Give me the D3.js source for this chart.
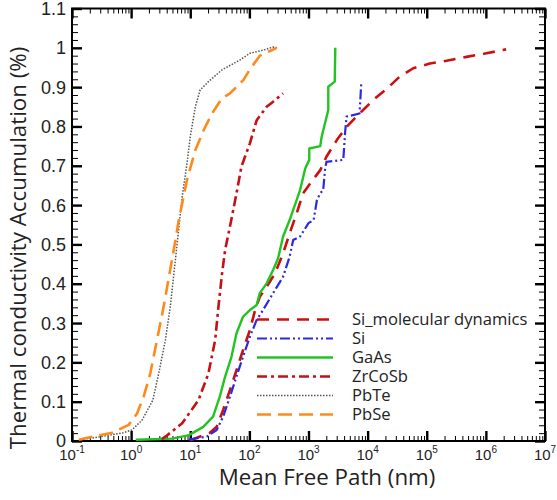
<!DOCTYPE html>
<html><head><meta charset="utf-8">
<script src="https://cdn.jsdelivr.net/npm/d3@7"></script>
<style>body{margin:0;background:#fff}svg{display:block}</style>
</head><body><svg id="c" width="557" height="500"></svg>
<script>
// ---- data ----
const xTickExps = [-1,0,1,2,3,4,5,6,7];
const yTicks = [0,0.1,0.2,0.3,0.4,0.5,0.6,0.7,0.8,0.9,1,1.1];
const yTickLabels = ["0","0.1","0.2","0.3","0.4","0.5","0.6","0.7","0.8","0.9","1","1.1"];
const seriesNames = ["Si_molecular dynamics","Si","GaAs","ZrCoSb","PbTe","PbSe"];

const siMdX = [10,21,28,36,47,60.6,78,102,125,150,196,270,372,480,630,810,1070,1580,2010,3030,4400,7300,1.24e4,2.3e4,3.5e4,5.9e4,1.13e5,2.16e5,4.7e5,1.02e6,2.2e6];
const siMdY = [0.002,0.02,0.036,0.079,0.13,0.18,0.231,0.282,0.333,0.367,0.392,0.426,0.477,0.528,0.579,0.63,0.655,0.689,0.723,0.766,0.799,0.833,0.867,0.901,0.927,0.948,0.96,0.967,0.977,0.986,0.996];

const siX = [9.5,10,19,28,36,47,60.6,78,102,133,170,252,372,480,550,720,1000,1220,1390,1580,1770,1900,2010,3880,4150,4400,7300,7800];
const siY = [0.003,0.004,0.011,0.028,0.062,0.113,0.164,0.214,0.265,0.308,0.333,0.376,0.418,0.469,0.511,0.52,0.554,0.562,0.613,0.63,0.638,0.689,0.71,0.715,0.783,0.825,0.833,0.909];

const gaasX = [1.2,5,9.5,16.6,24.3,31.6,38.9,49.8,60.6,78,102,133,150,196,252,306,372,480,720,880,1030,1030,1580,1670,2160,2160,2780,2840];
const gaasY = [0.003,0.006,0.015,0.036,0.062,0.113,0.164,0.214,0.274,0.316,0.333,0.346,0.376,0.401,0.435,0.465,0.52,0.562,0.638,0.693,0.715,0.744,0.75,0.774,0.842,0.901,0.914,1.0];

const zrX = [3.3,3.8,7.3,13.8,20.3,26.4,30,34.5,38.9,46.9,60.6,73.4,102,133,196,252,372];
const zrY = [0.005,0.011,0.045,0.104,0.172,0.257,0.342,0.426,0.486,0.545,0.63,0.698,0.757,0.816,0.85,0.863,0.884];

const pbteX = [0.14,0.7,1.03,1.53,2.33,2.93,3.8,4.6,5.6,7.3,8.8,10,12.2,14.7,20.3,34.5,69,102,170,252,290];
const pbteY = [0.003,0.02,0.028,0.053,0.104,0.172,0.257,0.342,0.46,0.621,0.706,0.774,0.85,0.893,0.914,0.944,0.969,0.986,0.994,1.002,1.0];

const pbseX = [0.13,0.22,0.48,0.91,1.26,1.63,2.11,2.74,3.55,4.9,5.6,6.4,8.8,12.2,16.9,23.3,34.5,47,79,102,150,223,290];
const pbseY = [0.003,0.011,0.021,0.041,0.07,0.113,0.172,0.257,0.342,0.46,0.51,0.562,0.664,0.74,0.791,0.833,0.872,0.884,0.918,0.945,0.98,0.992,1.0];

// ---- layout ----
const L=72,R=545,T=8.5,B=441;
const svg=d3.select("#c");
const x=d3.scaleLog().domain([1e-1,1e7]).range([L,R]);
const y=d3.scaleLinear().domain([0,1.1]).range([B,T]);

const styles=[
 {color:"#cc1010",w:2.6,dash:"12,8"},
 {color:"#2a2ae6",w:2.2,dash:"10,3,2,3,2,3"},
 {color:"#22c422",w:2.4,dash:null},
 {color:"#c80f14",w:2.6,dash:"10,4,3,4"},
 {color:"#555",w:1.5,dash:"1.5,1.5"},
 {color:"#ff8a1c",w:2.6,dash:"14,7"}
];
const series=[[siMdX,siMdY],[siX,siY],[gaasX,gaasY],[zrX,zrY],[pbteX,pbteY],[pbseX,pbseY]];

const xMajor=xTickExps.map(e=>Math.pow(10,e));
const xMinor=[];
for(let e=-1;e<7;e++) for(let k=2;k<=9;k++) xMinor.push(k*Math.pow(10,e));
const yMinor=d3.range(0,56).map(i=>i*0.02).filter(v=>Math.abs(v*10-Math.round(v*10))>1e-6);

const axG=svg.append("g");
function axis(gen,tr,vals,size,sw){
  const g=axG.append("g").attr("transform",tr)
   .call(gen.tickValues(vals).tickSize(size).tickFormat(""));
  g.select(".domain").remove();
  g.selectAll(".tick line").attr("stroke","#000").attr("stroke-width",sw);
}
axis(d3.axisTop(x),`translate(0,${B})`,xMinor,5,1);
axis(d3.axisTop(x),`translate(0,${B})`,xMajor,10,2.4);
axis(d3.axisBottom(x),`translate(0,${T})`,xMinor,5,1);
axis(d3.axisBottom(x),`translate(0,${T})`,xMajor,10,2.4);
axis(d3.axisRight(y),`translate(${L},0)`,yMinor,6,1);
axis(d3.axisRight(y),`translate(${L},0)`,yTicks,10,2.4);
axis(d3.axisLeft(y),`translate(${R},0)`,yMinor,6,1);
axis(d3.axisLeft(y),`translate(${R},0)`,yTicks,10,2.4);

svg.append("rect").attr("x",L).attr("y",T).attr("width",R-L).attr("height",B-T)
  .attr("fill","none").attr("stroke","#000").attr("stroke-width",2);

const lab=svg.append("g").attr("font-family","Liberation Sans, Arial, sans-serif").attr("fill","#222");
yTicks.forEach((v,i)=>{
  lab.append("text").attr("x",L-6).attr("y",y(v)).attr("dy","0.36em")
    .attr("text-anchor","end").attr("font-size",18).text(yTickLabels[i]);
});
xTickExps.forEach(e=>{
  const t=lab.append("text").attr("x",x(Math.pow(10,e))).attr("y",460)
    .attr("text-anchor","middle").attr("font-size",15);
  t.append("tspan").text("10");
  t.append("tspan").attr("font-size",10).attr("dy",-7).text(String(e));
});

const line=d3.line().x(d=>x(d[0])).y(d=>y(d[1]));
series.forEach((s,i)=>{
  const pts=s[0].map((v,j)=>[v,s[1][j]]);
  const st=styles[i];
  svg.append("path").attr("d",line(pts)).attr("fill","none")
    .attr("stroke",st.color).attr("stroke-width",st.w)
    .attr("stroke-dasharray",st.dash).attr("stroke-linejoin","round");
});

const lg=svg.append("g");
seriesNames.forEach((n,i)=>{
  const yy=319.5+i*19;
  const st=styles[i];
  lg.append("line").attr("x1",257).attr("x2",333).attr("y1",yy).attr("y2",yy)
    .attr("stroke",st.color).attr("stroke-width",st.w).attr("stroke-dasharray",st.dash);
  lg.append("text").attr("x",352).attr("y",yy+5.5).attr("font-family","Open Sans, sans-serif")
    .attr("font-size",16.6).attr("fill","#222").text(n);
});

svg.append("text").attr("x",327).attr("y",485).attr("text-anchor","middle")
  .attr("font-family","Open Sans, sans-serif").attr("font-size",22.3).attr("fill","#222")
  .text("Mean Free Path (nm)");
svg.append("text").attr("transform","translate(26,248) rotate(-90)").attr("text-anchor","middle")
  .attr("font-family","Open Sans, sans-serif").attr("font-size",22.3).attr("fill","#222")
  .text("Thermal conductivity Accumulation (%)");
</script></body></html>
